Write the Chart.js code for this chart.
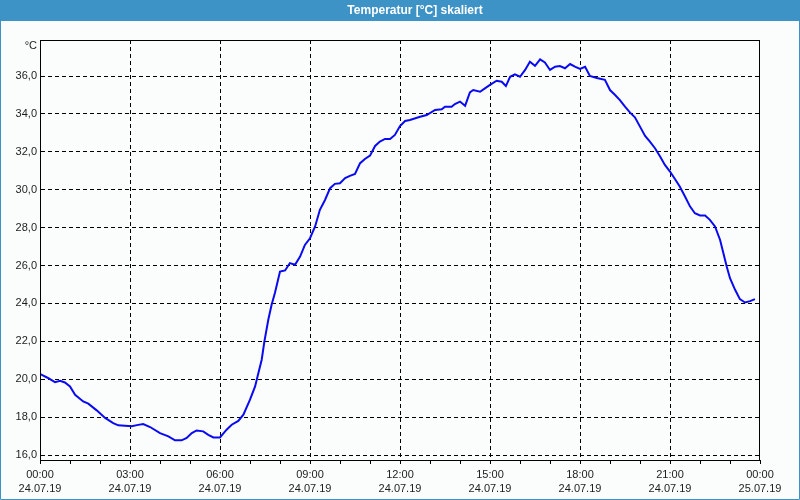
<!DOCTYPE html>
<html>
<head>
<meta charset="utf-8">
<script src="https://cdn.jsdelivr.net/npm/chart.js@4/dist/chart.umd.min.js"></script>
<style>
  html, body { margin: 0; padding: 0; background: #fbfdfd; }
  #wrap { position: relative; width: 800px; height: 500px; }
</style>
</head>
<body>
<div id="wrap"><canvas id="tempChart"></canvas></div>
<script>
/* Temperatur [°C] skaliert - 24.07.19, one day of readings */

// time of day in hours (0 = 24.07.19 00:00)
const hours = [
  0.01, 0.25, 0.5, 0.67, 0.83, 1.0, 1.17, 1.44, 1.61, 1.89, 2.17, 2.44, 2.61, 2.83,
  3.06, 3.23, 3.44, 3.67, 4.0, 4.28, 4.5, 4.72, 4.89, 5.06, 5.22, 5.44, 5.61, 5.78,
  6.0, 6.22, 6.39, 6.61, 6.78, 7.0, 7.17, 7.28, 7.39, 7.48, 7.61, 7.72, 7.83,
  8.0, 8.17, 8.33, 8.5, 8.67, 8.83, 9.0, 9.17, 9.33, 9.5, 9.67, 9.83,
  10.0, 10.17, 10.33, 10.5, 10.67, 10.83, 11.0, 11.17, 11.33, 11.5, 11.67, 11.83,
  12.0, 12.17, 12.33, 12.67, 12.89, 13.17, 13.39, 13.5, 13.72, 13.83,
  14.0, 14.17, 14.33, 14.44, 14.67, 14.83, 15.0, 15.22, 15.39, 15.53, 15.67, 15.83,
  16.0, 16.17, 16.33, 16.5, 16.67, 16.83, 17.0, 17.17, 17.33, 17.5, 17.67, 17.83,
  18.0, 18.17, 18.33, 18.56, 18.83, 19.0, 19.17, 19.33, 19.5, 19.67, 19.83,
  20.0, 20.17, 20.33, 20.5, 20.67, 20.83, 21.0, 21.17, 21.33, 21.5, 21.67, 21.83,
  22.0, 22.17, 22.33, 22.5, 22.67, 22.78, 22.89, 23.0, 23.17, 23.33, 23.5, 23.67, 23.83
];

// temperature in °C
const temps = [
  20.27, 20.08, 19.85, 19.92, 19.83, 19.62, 19.18, 18.83, 18.71, 18.36, 17.96, 17.69, 17.57, 17.55,
  17.52, 17.58, 17.64, 17.48, 17.16, 16.99, 16.78, 16.78, 16.9, 17.16, 17.3, 17.25, 17.07, 16.93,
  16.93, 17.34, 17.6, 17.8, 18.13, 18.92, 19.62, 20.33, 21.03, 22.0, 23.14, 23.93, 24.55,
  25.68, 25.74, 26.13, 26.04, 26.47, 27.09, 27.44, 28.06, 28.94, 29.46, 30.08, 30.31,
  30.34, 30.61, 30.73, 30.83, 31.4, 31.62, 31.8, 32.31, 32.54, 32.68, 32.68, 32.89,
  33.36, 33.63, 33.68, 33.85, 33.94, 34.21, 34.24, 34.38, 34.38, 34.52,
  34.65, 34.43, 35.14, 35.26, 35.17, 35.35, 35.53, 35.75, 35.7, 35.47, 35.96, 36.09,
  35.96, 36.32, 36.75, 36.54, 36.88, 36.72, 36.32, 36.49, 36.53, 36.41, 36.63, 36.49,
  36.37, 36.49, 36.0, 35.9, 35.8, 35.26, 35.0, 34.73, 34.38, 34.07, 33.82,
  33.33, 32.84, 32.54, 32.19, 31.75, 31.31, 30.96, 30.55, 30.16, 29.64, 29.11, 28.76,
  28.64, 28.64, 28.41, 28.06, 27.35, 26.65, 25.95, 25.33, 24.72, 24.23, 24.05, 24.12, 24.23
];

// x tick labels every 3 hours (two lines each)
const tickTimes = ["00:00", "03:00", "06:00", "09:00", "12:00", "15:00", "18:00", "21:00", "00:00"];
const tickDates = ["24.07.19", "24.07.19", "24.07.19", "24.07.19", "24.07.19", "24.07.19", "24.07.19", "24.07.19", "25.07.19"];

const titleText = "Temperatur [°C] skaliert";
const unitText = "°C";

const yMin = 15.74;
const yMax = 37.9;

const frameBlue = "#3d92c6";
const bgColor = "#fbfdfd";
const inkColor = "#1c1c1c";
const fontFamily = "'Liberation Sans', Arial, sans-serif";

// background, title bar, outer frame, plot box and unit label
const framePlugin = {
  id: "frame",
  beforeDraw(chart) {
    const { ctx, width, height } = chart;
    ctx.save();
    ctx.fillStyle = bgColor;
    ctx.fillRect(0, 0, width, height);
    ctx.fillStyle = frameBlue;
    ctx.fillRect(0, 0, width, 21);
    ctx.strokeStyle = frameBlue;
    ctx.lineWidth = 1;
    ctx.beginPath();
    ctx.moveTo(0.5, 21);
    ctx.lineTo(0.5, height - 0.5);
    ctx.lineTo(width - 0.5, height - 0.5);
    ctx.lineTo(width - 0.5, 21);
    ctx.stroke();
    // title (sits a bit right of centre, as in the source program)
    ctx.fillStyle = "#ffffff";
    ctx.font = "bold 12px " + fontFamily;
    ctx.textAlign = "center";
    ctx.textBaseline = "middle";
    ctx.fillText(titleText, 415, 10.5);
    ctx.restore();
  },
  afterDraw(chart) {
    const { ctx, chartArea } = chart;
    ctx.save();
    ctx.strokeStyle = "#000";
    ctx.lineWidth = 1;
    ctx.strokeRect(chartArea.left + 0.5, chartArea.top + 0.5,
      chartArea.right - chartArea.left - 1, chartArea.bottom - chartArea.top);
    ctx.fillStyle = inkColor;
    ctx.font = "11px " + fontFamily;
    ctx.textAlign = "right";
    ctx.textBaseline = "middle";
    ctx.fillText(unitText, chartArea.left - 3, chartArea.top + 6);
    ctx.restore();
  }
};

const gridDash = [4, 3];

new Chart(document.getElementById("tempChart"), {
  type: "line",
  data: {
    datasets: [{
      label: "Temperatur",
      data: hours.map((h, i) => ({ x: h, y: temps[i] })),
      borderColor: "#0a0af0",
      borderWidth: 2,
      pointRadius: 0,
      tension: 0,
      fill: false
    }]
  },
  options: {
    responsive: true,
    maintainAspectRatio: false,
    animation: false,
    events: [],
    layout: { padding: { left: 0, right: 0, top: 40, bottom: 0 } },
    plugins: {
      legend: { display: false },
      tooltip: { enabled: false },
      title: { display: false }
    },
    scales: {
      x: {
        type: "linear",
        min: 0,
        max: 24,
        afterFit: (s) => { s.height = 40; },
        ticks: {
          stepSize: 1,
          autoSkip: false,
          maxRotation: 0,
          padding: 3,
          color: inkColor,
          font: { family: fontFamily, size: 11, lineHeight: 1.36 },
          callback: (v) => (v % 3 === 0 ? [tickTimes[v / 3], tickDates[v / 3]] : "")
        },
        grid: {
          color: (c) => (c.tick && c.tick.value % 3 === 0 && c.tick.value > 0 && c.tick.value < 24 ? "#000" : "rgba(0,0,0,0)"),
          lineWidth: 1,
          drawTicks: true,
          tickLength: 4,
          tickColor: "#000",
          tickWidth: 1,
          tickBorderDash: []
        },
        border: { display: true, color: "#000", width: 1, dash: gridDash }
      },
      y: {
        min: yMin,
        max: yMax,
        afterFit: (s) => { s.width = 40; },
        ticks: {
          stepSize: 2,
          includeBounds: false,
          autoSkip: false,
          padding: 3,
          color: inkColor,
          font: { family: fontFamily, size: 11 },
          callback: (v) => v.toFixed(1).replace(".", ",")
        },
        grid: { color: "#000", lineWidth: 1, drawTicks: false },
        border: { display: true, color: "#000", width: 1, dash: gridDash }
      },
      y2: {
        position: "right",
        display: true,
        afterFit: (s) => { s.width = 40; },
        grid: { display: false },
        ticks: { display: false },
        border: { display: false }
      }
    }
  },
  plugins: [framePlugin]
});
</script>
</body>
</html>
